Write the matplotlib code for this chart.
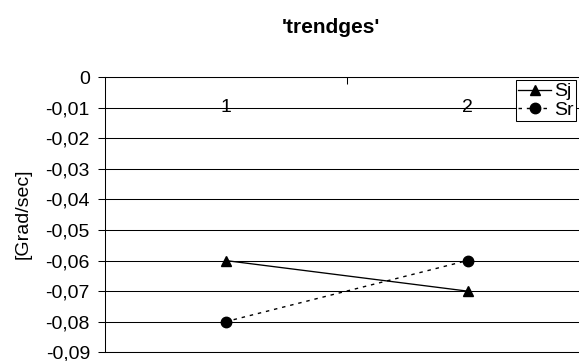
import matplotlib
matplotlib.use("Agg")
import matplotlib.pyplot as plt
from matplotlib.ticker import FixedLocator

plt.rcParams['font.family'] = ['Liberation Sans', 'DejaVu Sans']

categories = ['1', '2']
series_names = ['Sj', 'Sr']
sj_values = [-0.06, -0.07]
sr_values = [-0.08, -0.06]
y_ticks = [0, -0.01, -0.02, -0.03, -0.04, -0.05, -0.06, -0.07, -0.08, -0.09]
title = "'trendges'"
y_label = "[Grad/sec]"

W, H = 579, 361
fig = plt.figure(figsize=(W / 100, H / 100), dpi=100)

# plot area (extends past the right edge, as in the cropped reference)
left, right, top, bottom = 104.5, 588.5, 77.0, 352.3
ax = fig.add_axes([left / W, 1 - bottom / H, (right - left) / W, (bottom - top) / H])

xpos = [i + 0.5 for i in range(len(categories))]
ax.set_xlim(0, len(categories))
ax.set_ylim(min(y_ticks), max(y_ticks))

ax.plot(xpos, sj_values, color='black', lw=0.95, marker='^', markersize=7.5,
        label=series_names[0], clip_on=False)
ax.plot(xpos, sr_values, color='black', lw=1.0, linestyle=(0, (2.5, 3.5)),
        marker='o', markersize=7.5, label=series_names[1], clip_on=False)

# y axis
ax.set_yticks(y_ticks)
ax.set_yticklabels(['0' if v == 0 else f"{v:.2f}".replace('.', ',') for v in y_ticks])
ax.tick_params(axis='y', direction='out', length=5, width=0.75, pad=5.5,
               labelsize=14, colors='black')
ax.yaxis.grid(True, color='black', lw=0.75)
ax.set_axisbelow(True)

# x axis at the top (value 0) with category labels beneath it
ax.xaxis.set_ticks_position('top')
ax.xaxis.set_major_locator(FixedLocator([1]))
ax.xaxis.set_ticklabels([])
ax.tick_params(axis='x', direction='in', length=5, width=0.75)
for xp, lab in zip(xpos, categories):
    ax.text(xp, -0.01154, lab, ha='center', va='baseline', fontsize=14)

for s in ax.spines.values():
    s.set_color('black')
    s.set_linewidth(0.75)

# titles
fig.text(331 / W, 1 - 33 / H, title, ha='center', va='baseline',
         fontsize=15, fontweight='bold')
fig.text(23 / W, 1 - 214 / H, y_label, ha='center', va='center',
         rotation=90, fontsize=14)

leg = fig.legend(loc='upper left', bbox_to_anchor=(515.7 / W, 1 - 80.5 / H),
                 bbox_transform=fig.transFigure, fontsize=14, frameon=True,
                 fancybox=False, shadow=False, borderpad=0.12, labelspacing=0.05,
                 handlelength=1.7, handletextpad=0.15, borderaxespad=0)
leg.get_frame().set_edgecolor('black')
leg.get_frame().set_linewidth(0.75)
leg.get_frame().set_alpha(1)

fig.savefig('out.png', dpi=100)
